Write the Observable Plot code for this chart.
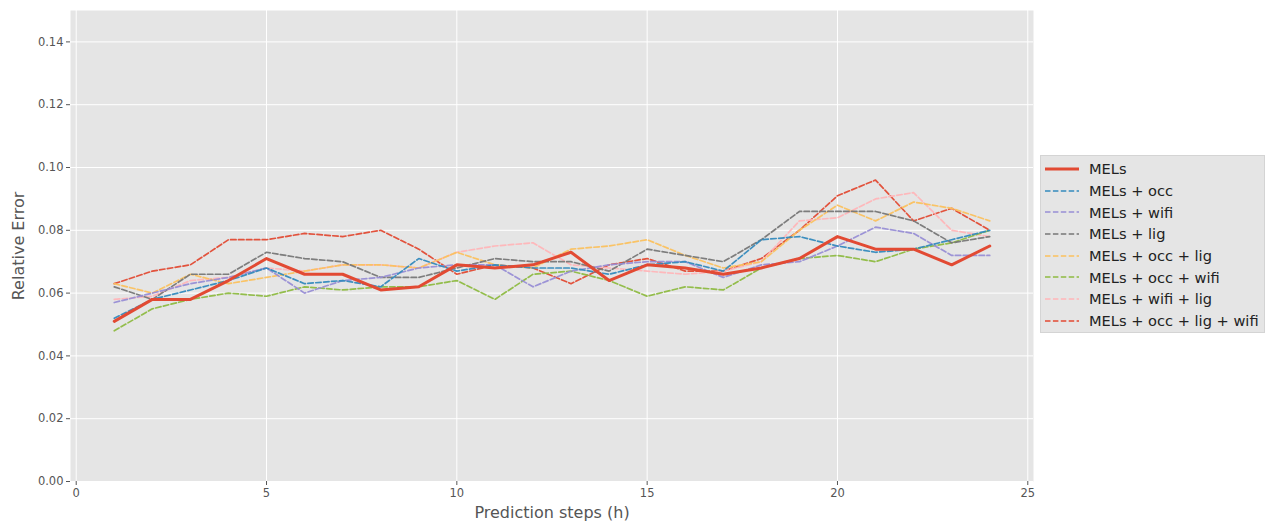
<!DOCTYPE html>
<html>
<head>
<meta charset="utf-8">
<script src="https://cdn.jsdelivr.net/npm/d3@7"></script>
<script src="https://cdn.jsdelivr.net/npm/@observablehq/plot@0.6"></script>
<style>
  html, body { margin: 0; padding: 0; background: #fff; }
  #wrap { position: relative; width: 1271px; height: 523px; font-family: "DejaVu Sans", sans-serif; }
  #legend { position: absolute; left: 1040px; top: 155px; width: 225px; height: 178px;
    background: #E5E5E5; border: 1px solid #d4d4d4; box-sizing: border-box; padding-top: 2px; }
  .row { height: 21.7px; display: flex; align-items: center; font-size: 14.6px; color: #222; white-space: nowrap; }
  .row svg { margin-left: 4px; margin-right: 10px; }
</style>
</head>
<body>
<div id="wrap"><div id="chart"></div><div id="legend"></div></div>
<script>
const steps = [1,2,3,4,5,6,7,8,9,10,11,12,13,14,15,16,17,18,19,20,21,22,23,24];

const seriesNames = ["MELs", "MELs + occ", "MELs + wifi", "MELs + lig", "MELs + occ + lig",
  "MELs + occ + wifi", "MELs + wifi + lig", "MELs + occ + lig + wifi"];
const seriesColors = ["#E24A33", "#348ABD", "#988ED5", "#777777", "#FBC15E", "#8EBA42", "#FFB5B8", "#E24A33"];

const mels          = [0.051,0.058,0.058,0.064,0.071,0.066,0.066,0.061,0.062,0.069,0.068,0.069,0.073,0.064,0.069,0.068,0.066,0.068,0.071,0.078,0.074,0.074,0.069,0.075];
const melsOcc       = [0.052,0.058,0.061,0.064,0.068,0.063,0.064,0.062,0.071,0.067,0.069,0.068,0.068,0.066,0.069,0.070,0.067,0.077,0.078,0.075,0.073,0.074,0.077,0.080];
const melsWifi      = [0.057,0.060,0.063,0.065,0.068,0.060,0.064,0.065,0.068,0.069,0.069,0.062,0.067,0.069,0.070,0.070,0.065,0.069,0.070,0.075,0.081,0.079,0.072,0.072];
const melsLig       = [0.062,0.058,0.066,0.066,0.073,0.071,0.070,0.065,0.065,0.068,0.071,0.070,0.070,0.067,0.074,0.072,0.070,0.077,0.086,0.086,0.086,0.083,0.076,0.078];
const melsOccLig    = [0.063,0.060,0.066,0.063,0.065,0.067,0.069,0.069,0.068,0.073,0.069,0.068,0.074,0.075,0.077,0.072,0.068,0.070,0.080,0.088,0.083,0.089,0.087,0.083];
const melsOccWifi   = [0.048,0.055,0.058,0.060,0.059,0.062,0.061,0.062,0.062,0.064,0.058,0.066,0.067,0.064,0.059,0.062,0.061,0.068,0.071,0.072,0.070,0.074,0.076,0.080];
const melsWifiLig   = [0.058,0.059,0.064,0.065,0.068,0.067,0.069,0.069,0.068,0.073,0.075,0.076,0.069,0.068,0.067,0.066,0.067,0.070,0.083,0.084,0.090,0.092,0.080,0.078];
const melsOccLigWifi= [0.063,0.067,0.069,0.077,0.077,0.079,0.078,0.080,0.074,0.066,0.069,0.068,0.063,0.069,0.071,0.067,0.067,0.071,0.080,0.091,0.096,0.083,0.087,0.080];

const xTicks = [0,5,10,15,20,25];
const yTicks = [0,0.02,0.04,0.06,0.08,0.10,0.12,0.14];

const allSeries = [mels, melsOcc, melsWifi, melsLig, melsOccLig, melsOccWifi, melsWifiLig, melsOccLigWifi];
const rows = [];
allSeries.forEach((vals, i) => vals.forEach((v, j) => rows.push({series: seriesNames[i], step: steps[j], value: v})));

const marks = [
  Plot.frame({fill: "#E5E5E5", stroke: null}),
  Plot.gridX(xTicks, {stroke: "#fff", strokeOpacity: 1, strokeWidth: 1}),
  Plot.gridY(yTicks, {stroke: "#fff", strokeOpacity: 1, strokeWidth: 1}),
];
// draw dashed series first, then the solid MELs line on top
for (let i = seriesNames.length - 1; i >= 1; i--) {
  marks.push(Plot.line(rows.filter(d => d.series === seriesNames[i]), {
    x: "step", y: "value", stroke: seriesColors[i], strokeWidth: 1.7,
    strokeDasharray: "5.5,2.4", strokeOpacity: 0.95
  }));
}
marks.push(Plot.line(rows.filter(d => d.series === seriesNames[0]), {
  x: "step", y: "value", stroke: seriesColors[0], strokeWidth: 3
}));
marks.push(Plot.axisX(xTicks, {tickSize: 4, stroke: "#555", fill: "#555", fontSize: 11.5, tickPadding: 3,
  label: "Prediction steps (h)", labelAnchor: "center", labelArrow: "none", labelOffset: 36}));
marks.push(Plot.axisY(yTicks, {tickSize: 4, stroke: "#555", fill: "#555", fontSize: 11.5, tickPadding: 3,
  tickFormat: d3.format(".2f"), label: "Relative Error", labelAnchor: "center", labelArrow: "none", labelOffset: 58}));

const chart = Plot.plot({
  width: 1271, height: 523,
  marginLeft: 70, marginRight: 238, marginTop: 10, marginBottom: 42,
  style: {fontFamily: "DejaVu Sans, sans-serif", background: "#fff"},
  x: {domain: [-0.15, 25.15]},
  y: {domain: [0, 0.15]},
  marks
});
document.getElementById("chart").appendChild(chart);
// enlarge axis labels
chart.querySelectorAll("g[aria-label='x-axis label'] text, g[aria-label='y-axis label'] text").forEach(t => {
  t.setAttribute("font-size", "16px");
});

const legend = document.getElementById("legend");
seriesNames.forEach((name, i) => {
  const row = document.createElement("div");
  row.className = "row";
  const dash = i === 0 ? "" : `stroke-dasharray="5.5,2.4"`;
  const sw = i === 0 ? 3 : 1.7;
  row.innerHTML = `<svg width="34" height="10"><line x1="0" y1="5" x2="34" y2="5" stroke="${seriesColors[i]}" stroke-width="${sw}" ${dash}/></svg><span>${name}</span>`;
  legend.appendChild(row);
});
</script>
</body>
</html>
